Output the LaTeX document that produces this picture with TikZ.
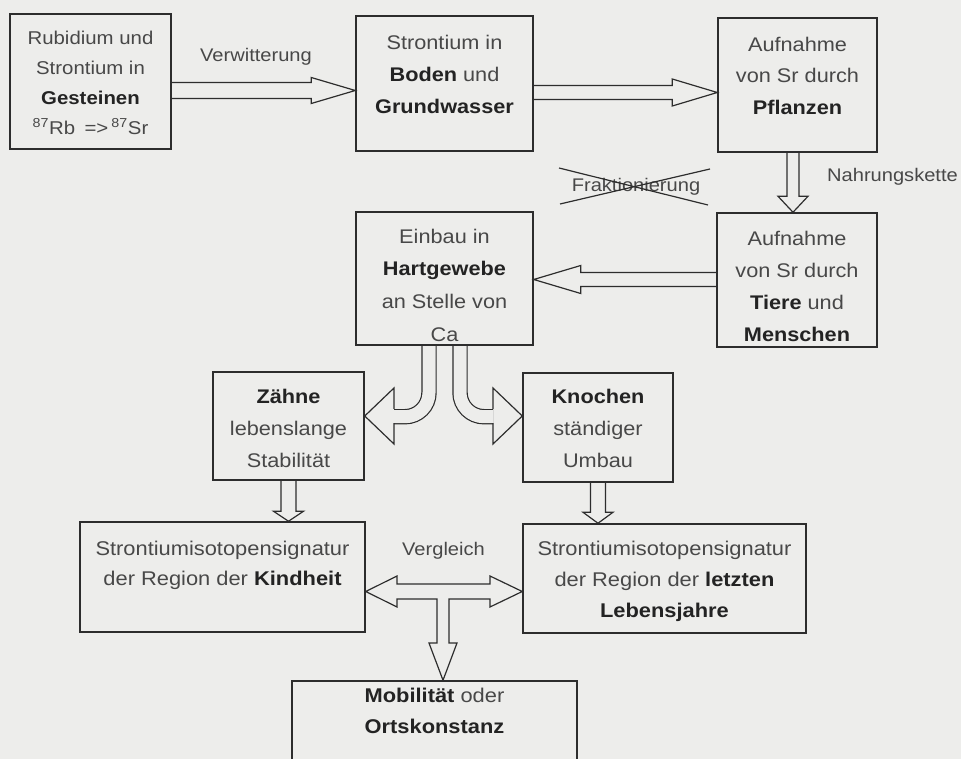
\documentclass[tikz,border=0pt]{standalone}
\usepackage{fontspec}
\setmainfont{Liberation Sans}[FakeStretch=1.1]
\usetikzlibrary{calc,fit}
\pgfdeclarelayer{bg}
\pgfdeclarelayer{arrows}
\pgfsetlayers{bg,arrows,main}
\definecolor{bgc}{RGB}{237,237,235}
\definecolor{linec}{RGB}{45,45,45}
\definecolor{txtc}{RGB}{72,72,72}
\definecolor{boldc}{RGB}{35,35,35}
\newcommand\B[1]{\textbf{\color{boldc}#1}}
\newcommand\fst{\rule{0pt}{12pt}}
\newcommand\fsz[2]{\fontsize{#1pt}{#2pt}\selectfont}
% hollow block arrow from #1 to #2: shaft half width #3, head half width #4, head length #5 (px)
\newcommand\blockarrow[5]{%
  \draw[arr] let \p1=(#1), \p2=(#2),
    \n1={veclen(\x2-\x1,\y2-\y1)}, \n2={atan2(\y2-\y1,\x2-\x1)} in
    {[shift={(\p1)}, rotate=\n2]
     (0pt,{#3*0.75pt}) -- ({\n1*1pt-#5*0.75pt},{#3*0.75pt})
     -- ({\n1*1pt-#5*0.75pt},{#4*0.75pt}) -- ({\n1*1pt},0pt)
     -- ({\n1*1pt-#5*0.75pt},{-#4*0.75pt}) -- ({\n1*1pt-#5*0.75pt},{-#3*0.75pt})
     -- (0pt,{-#3*0.75pt})};%
}
\begin{document}
\begin{tikzpicture}[x=0.75pt,y=-0.75pt,
  box/.style={draw=linec, line width=1.1pt, inner sep=0pt},
  txt/.style={anchor=north, inner sep=0pt, align=center, text=txtc},
  lbl/.style={anchor=base, inner sep=0pt, text=txtc, font=\fsz{13.7}{16}},
  arr/.style={draw=linec, line width=0.9pt, line join=miter},
  ]
\begin{pgfonlayer}{bg}
\fill[bgc] (0,0) rectangle (961,759);
\end{pgfonlayer}
\useasboundingbox (0,0) rectangle (961,759);
\clip (0,0) rectangle (961,759);

% boxes
\node[box, fit={(10,14) (171,149)}] (b1) {};
\node[box, fit={(356,16) (533,151)}] (b2) {};
\node[box, fit={(718,18) (877,152)}] (b3) {};
\node[box, fit={(356,212) (533,345)}] (b4) {};
\node[box, fit={(717,213) (877,347)}] (b5) {};
\node[box, fit={(213,372) (364,480)}] (b6) {};
\node[box, fit={(523,373) (673,482)}] (b7) {};
\node[box, fit={(80,522) (365,632)}] (b8) {};
\node[box, fit={(523,524) (806,633)}] (b9) {};
\node[box, fit={(292,681) (577,775)}] (b10) {};

% texts
\node[txt, font=\fsz{13.9}{22.5}] (t1) at (90.5,28) {\fst Rubidium und\\Strontium in\\\B{Gesteinen}\\\textsuperscript{87}Rb\hspace{0.5em}=>\,\textsuperscript{87}Sr};
\node[txt, font=\fsz{14.8}{24}] (t2) at (444.5,33) {\fst Strontium in\\\B{Boden} und\\\B{Grundwasser}};
\node[txt, font=\fsz{14.8}{23.6}] (t3) at (797.5,35) {\fst Aufnahme\\von Sr durch\\\B{Pflanzen}};
\node[txt, font=\fsz{14.8}{24.5}] (t4) at (444.5,227) {\fst Einbau in\\\B{Hartgewebe}\\an Stelle von\\Ca};
\node[txt, font=\fsz{14.8}{24}] (t5) at (797,229) {\fst Aufnahme\\von Sr durch\\\B{Tiere} und\\\B{Menschen}};
\node[txt, font=\fsz{14.8}{24}] (t6) at (288.5,387) {\fst\B{Zähne}\\lebenslange\\Stabilität};
\node[txt, font=\fsz{14.8}{24}] (t7) at (598,387) {\fst\B{Knochen}\\ständiger\\Umbau};
\node[txt, font=\fsz{14.9}{22.5}] (t8) at (222.5,539) {\fst Strontiumisotopensignatur\\der Region der \B{Kindheit}};
\node[txt, font=\fsz{14.9}{23.25}] (t9) at (664.5,539) {\fst Strontiumisotopensignatur\\der Region der \B{letzten}\\\B{Lebensjahre}};
\node[txt, font=\fsz{14.9}{23.25}] (t10) at (434.5,686) {\fst\B{Mobilität} oder\\\B{Ortskonstanz}};

% labels
\node[lbl] (lv) at (256,62) {Verwitterung};
\node[lbl] (lf) at (636,192) {Fraktionierung};
\node[lbl] (ln) at (892.5,182) {Nahrungskette};
\node[lbl] (lg) at (443.5,555) {Vergleich};
\draw[arr] (559,168) -- (708,205);
\draw[arr] (560,204) -- (710,169);

\begin{pgfonlayer}{arrows}
\blockarrow{b1.east |- 0,90.5}{b2.west |- 0,90.5}{8}{13}{44}
\blockarrow{b2.east |- 0,92.5}{b3.west |- 0,92.5}{7}{13.5}{45}
\blockarrow{$(b3.south)+(-4.5,0)$}{$(b5.north)+(-4,0)$}{6}{15}{16}
\blockarrow{b5.west |- 0,279.5}{b4.east |- 0,279.5}{7}{14}{47}
\blockarrow{b6.south}{b8.north -| b6.south}{7.5}{15}{10}
\blockarrow{b7.south}{b9.north -| b7.south}{7.5}{15}{11}
% curved arrows from Hartgewebe
\draw[arr, double=bgc, double distance=9.75pt] ($(b4.south)+(-15.5,0)$) -- ++(0,47)
  .. controls +(0,13.25) and +(13.25,0) .. ++(-24,24) -- ++(-11,0);
\draw[arr] (394,408.9) -- (394,388) -- (b6.east |- 0,416) -- (394,444) -- (394,423.1);
\draw[arr, double=bgc, double distance=9.75pt] ($(b4.south)+(15.5,0)$) -- ++(0,47)
  .. controls +(0,13.25) and +(-13.25,0) .. ++(24,24) -- ++(9,0);
\draw[arr] (493,408.9) -- (493,388) -- (b7.west |- 0,416) -- (493,444) -- (493,423.1);
% comparison double arrow with stem
\draw[arr] (b8.east |- 0,591.5) -- (397,576) -- (397,584) -- (490,584) -- (490,576)
  -- (b9.west |- 0,591.5) -- (490,607) -- (490,599) -- (449,599) -- (449,643) -- (457,643)
  -- (b10.north -| 443,0) -- (429,643) -- (437,643) -- (437,599) -- (397,599) -- (397,607) -- cycle;
\end{pgfonlayer}
\end{tikzpicture}
\end{document}
